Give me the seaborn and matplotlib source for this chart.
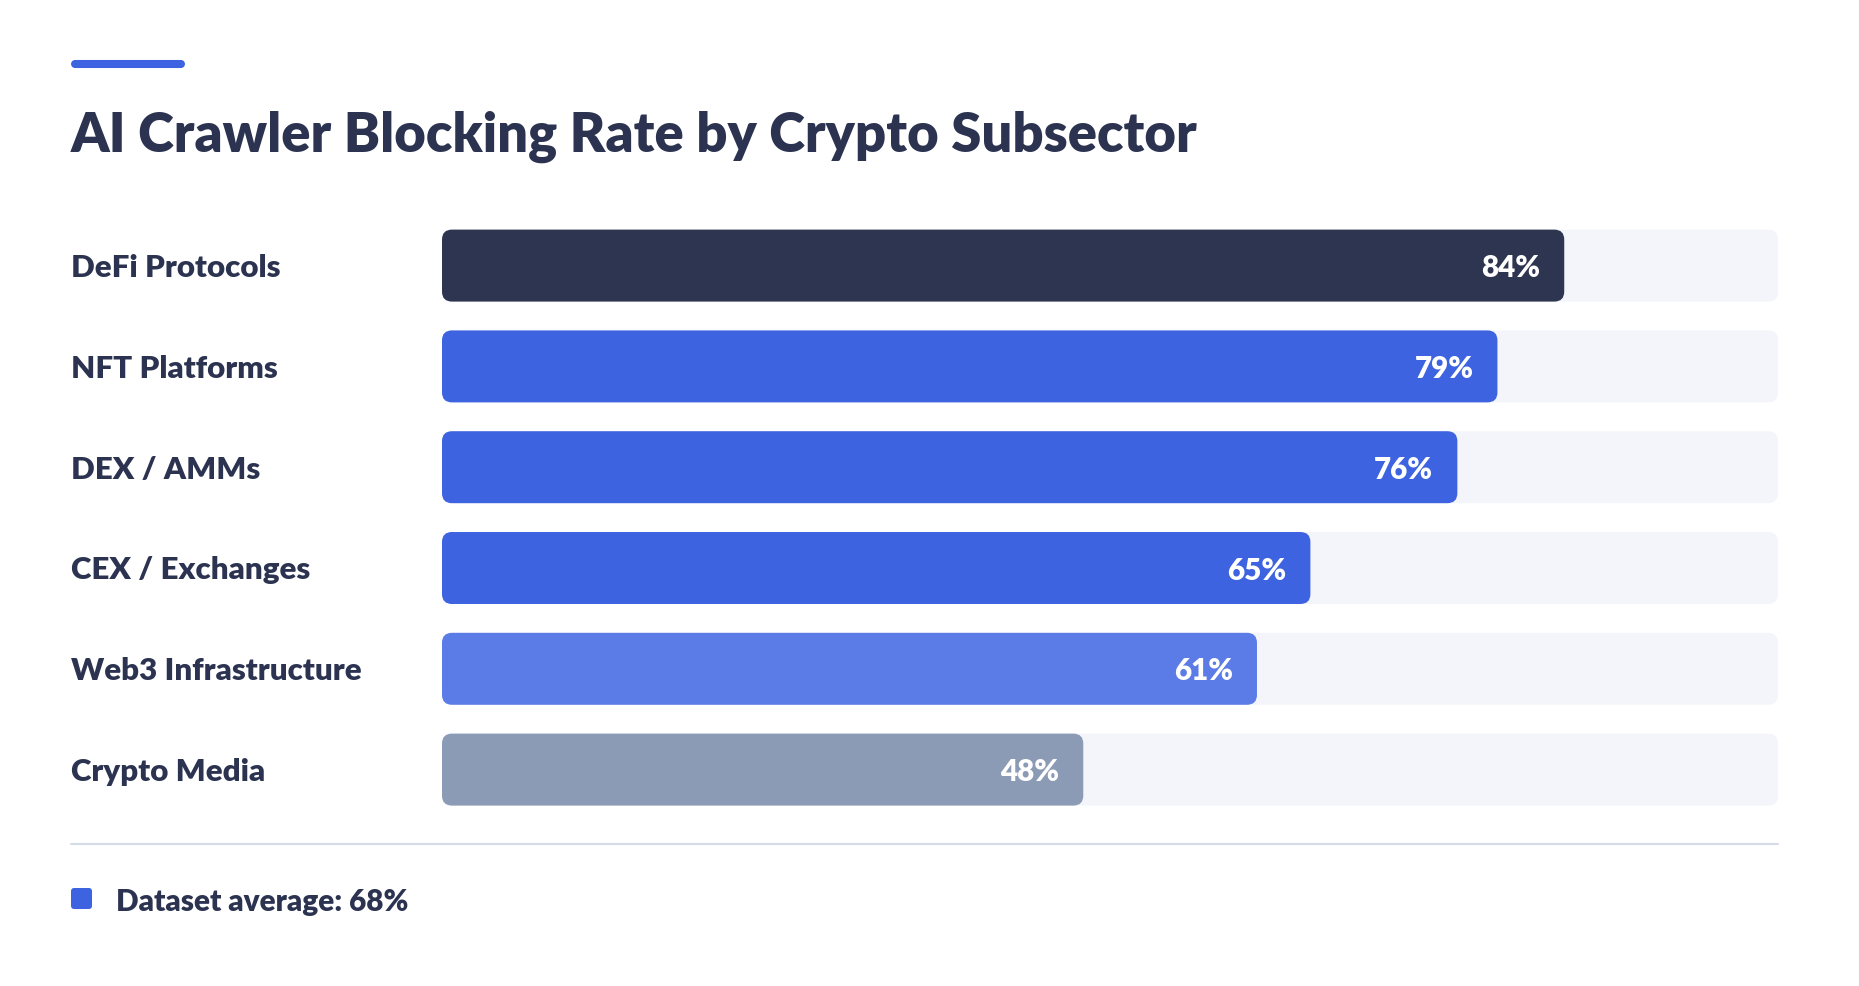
import matplotlib.pyplot as plt
import seaborn as sns
import pandas as pd
from matplotlib.patches import FancyBboxPatch
from matplotlib.lines import Line2D

# chart data
categories = ["DeFi Protocols", "NFT Platforms", "DEX / AMMs",
              "CEX / Exchanges", "Web3 Infrastructure", "Crypto Media"]
rates = [84, 79, 76, 65, 61, 48]
bar_colors = ["#2e3550", "#3d63e0", "#3d63e0", "#3d63e0", "#5b7be6", "#8c9bb5"]
average = 68
track_max = 100
title = "AI Crawler Blocking Rate by Crypto Subsector"

W, H = 1859, 986
dark = "#2b3350"
blue = "#3d63e0"

sns.set_theme(style="white")
plt.rcParams["font.family"] = ["Lato", "DejaVu Sans"]

df = pd.DataFrame({"sector": categories, "rate": rates,
                   "track": [track_max] * len(categories)})

fig = plt.figure(figsize=(W / 100, H / 100), dpi=100)
fig.patch.set_facecolor("white")

# axes in pixel layout of the reference
ax_left, ax_right = 442, 1778
ax_top, ax_bottom = 215.2, 820
ax = fig.add_axes([ax_left / W, 1 - ax_bottom / H,
                   (ax_right - ax_left) / W, (ax_bottom - ax_top) / H])

bar_w = 0.714
sns.barplot(data=df, x="track", y="sector", color="#f4f5fa", width=bar_w,
            saturation=1, ax=ax)
sns.barplot(data=df, x="rate", y="sector", hue="sector", palette=bar_colors,
            width=bar_w, saturation=1, legend=False, ax=ax)

ax.set_xlim(0, track_max)
ax.set_ylim(len(categories) - 0.5, -0.5)

# rounded corners
px_x = track_max / (ax_right - ax_left)
px_y = len(categories) / (ax_bottom - ax_top)
radius = 10
for p in list(ax.patches):
    fb = FancyBboxPatch((p.get_x(), p.get_y()), p.get_width(), p.get_height(),
                        boxstyle=f"round,pad=0,rounding_size={radius * px_x}",
                        mutation_aspect=px_y / px_x,
                        facecolor=p.get_facecolor(), edgecolor="none",
                        zorder=p.get_zorder())
    p.remove()
    ax.add_patch(fb)

# value labels
for i, v in enumerate(rates):
    ax.text(v - 24 * px_x, i, f"{v}%", ha="right", va="center_baseline",
            color="white", fontsize=21.3, fontweight="heavy")

ax.set_xlabel("")
ax.set_ylabel("")
ax.set_xticks([])
sns.despine(ax=ax, left=True, bottom=True)
ax.tick_params(axis="y", length=0, pad=(ax_left - 71) * 0.72,
               labelsize=22.5, labelcolor=dark)
for lbl in ax.get_yticklabels():
    lbl.set_ha("left")
    lbl.set_fontweight("heavy")

# title and accent
fig.text(71 / W, 1 - 152 / H, title, fontsize=39.2, fontweight="heavy",
         color=dark, va="baseline")
fig.add_artist(Line2D([75 / W, 181 / W], [1 - 64 / H] * 2, lw=5.8,
                      color=blue, solid_capstyle="round",
                      transform=fig.transFigure))

# separator
fig.add_artist(Line2D([71 / W, 1778 / W], [1 - 844 / H] * 2, lw=1.5,
                      color="#d5dce8", transform=fig.transFigure))

# legend
fig.add_artist(FancyBboxPatch((0.71, (H - 909) / 100), 0.21, 0.21,
                              boxstyle="round,pad=0,rounding_size=0.03",
                              facecolor=blue, edgecolor="none",
                              transform=fig.dpi_scale_trans))
fig.text(116 / W, 1 - 899 / H, f"Dataset average: {average}%", fontsize=21.4,
         fontweight="heavy", color=dark, va="center_baseline")

fig.savefig("out.png", dpi=100, facecolor="white")
